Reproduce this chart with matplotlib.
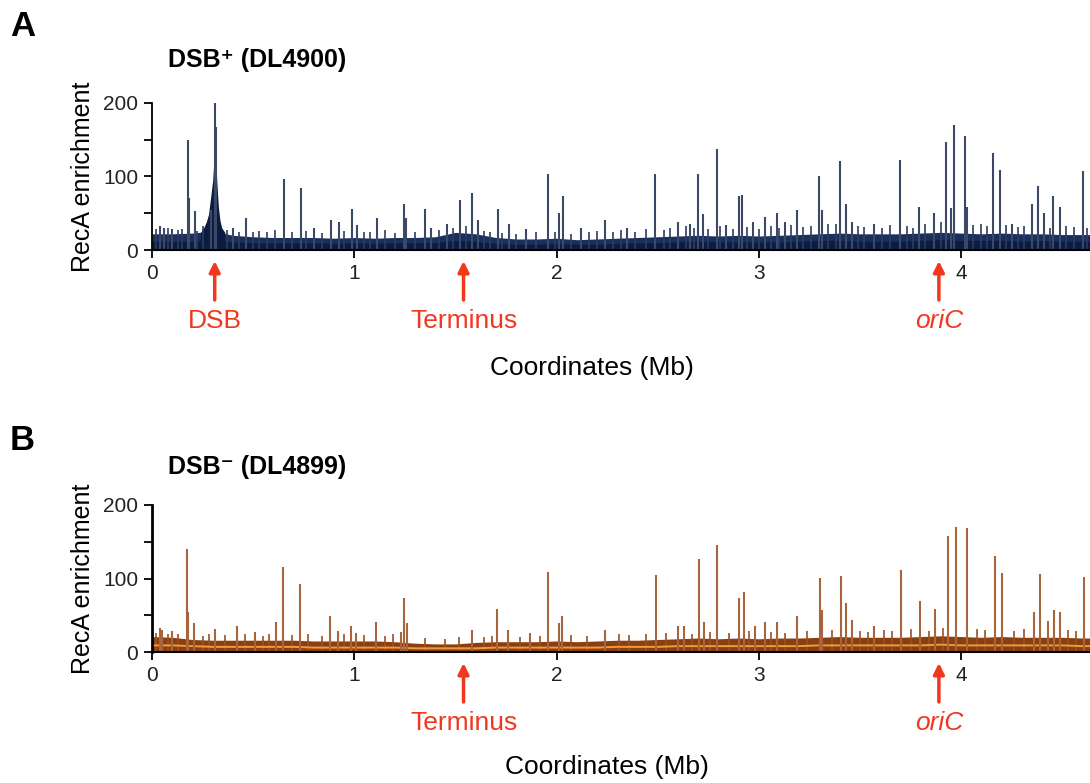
import matplotlib
matplotlib.use('Agg')
import matplotlib.pyplot as plt

plt.rcParams['font.family'] = ['Liberation Sans', 'DejaVu Sans']

# genome positions (Mb) of the background envelope, every 0.1 Mb
env_mb = [0.0, 0.1, 0.2, 0.3, 0.4, 0.5, 0.6, 0.7, 0.8, 0.9,
          1.0, 1.1, 1.2, 1.3, 1.4, 1.5, 1.6, 1.7, 1.8, 1.9,
          2.0, 2.1, 2.2, 2.3, 2.4, 2.5, 2.6, 2.7, 2.8, 2.9,
          3.0, 3.1, 3.2, 3.3, 3.4, 3.5, 3.6, 3.7, 3.8, 3.9,
          4.0, 4.1, 4.2, 4.3, 4.4, 4.5, 4.6, 4.64]

# panel A (DSB+ DL4900)
a_env = [22, 22, 23, 26, 20, 18, 17, 17, 17, 16,
         17, 16, 17, 17, 18, 24, 22, 17, 15, 15,
         16, 14, 15, 16, 17, 18, 19, 20, 19, 20,
         19, 20, 21, 22, 23, 22, 22, 22, 23, 24,
         23, 22, 23, 22, 22, 21, 21, 21]
a_floor = [12, 12, 12, 14, 11, 10, 10, 10, 10, 9,
           10, 9, 10, 10, 10, 13, 12, 9, 8, 8,
           9, 8, 8, 9, 10, 10, 11, 12, 11, 11,
           11, 11, 12, 13, 13, 12, 12, 12, 13, 14,
           13, 13, 13, 12, 13, 12, 12, 12]
a_hump_mb = [0.24, 0.255, 0.268, 0.279, 0.29, 0.30, 0.306, 0.312, 0.32, 0.328,
             0.336, 0.345, 0.36]
a_hump = [24, 30, 38, 48, 72, 95, 122, 150, 95, 59, 40, 30, 24]
a_peak_mb = [0.04, 0.06, 0.10, 0.177, 0.182, 0.213, 0.29, 0.312, 0.315, 0.40, 0.465,
             0.652, 0.739, 0.80, 0.883, 0.924, 0.989, 1.015, 1.11, 1.244, 1.257,
             1.348, 1.38, 1.46, 1.525, 1.583, 1.61, 1.708, 1.765, 1.85, 1.959,
             2.011, 2.031, 2.12, 2.241, 2.35, 2.487, 2.60, 2.66, 2.701, 2.725,
             2.792, 2.84, 2.90, 2.919, 2.97, 3.03, 3.088, 3.13, 3.187, 3.299,
             3.31, 3.403, 3.43, 3.46, 3.57, 3.697, 3.792, 3.867, 3.927, 3.95,
             3.965, 4.021, 4.03, 4.157, 4.193, 4.25, 4.35, 4.38, 4.41, 4.455,
             4.49, 4.60]
a_peak = [32, 30, 28, 150, 71, 53, 55, 200, 168, 30, 43,
          97, 85, 30, 41, 38, 56, 34, 44, 63, 44,
          56, 30, 35, 68, 77, 41, 56, 36, 28, 104,
          50, 73, 30, 41, 30, 104, 38, 36, 104, 49,
          137, 34, 73, 75, 38, 45, 50, 38, 55, 101,
          55, 121, 62, 38, 36, 123, 58, 51, 147, 57,
          170, 155, 58, 132, 109, 35, 63, 87, 50, 73,
          58, 107]
# small background bumps seen along panel A
a_minor_mb = [0.02, 0.08, 0.13, 0.15, 0.22, 0.25, 0.37, 0.43, 0.50, 0.53,
              0.57, 0.61, 0.69, 0.76, 0.84, 0.95, 1.05, 1.08, 1.15, 1.20,
              1.30, 1.42, 1.49, 1.55, 1.64, 1.67, 1.73, 1.80, 1.90, 1.99,
              2.07, 2.16, 2.20, 2.28, 2.32, 2.39, 2.44, 2.53, 2.56, 2.64,
              2.68, 2.75, 2.81, 2.87, 2.94, 3.00, 3.06, 3.10, 3.16, 3.22,
              3.26, 3.34, 3.38, 3.49, 3.52, 3.61, 3.65, 3.73, 3.76, 3.82,
              3.90, 4.06, 4.10, 4.13, 4.22, 4.28, 4.31, 4.44, 4.52, 4.56,
              4.62]
a_minor = [28, 30, 27, 29, 26, 33, 27, 25, 24, 26,
           25, 27, 24, 26, 23, 26, 24, 25, 27, 23,
           25, 27, 30, 32, 26, 24, 23, 22, 24, 25,
           22, 24, 26, 25, 27, 24, 28, 27, 30, 32,
           30, 28, 33, 29, 31, 29, 32, 30, 34, 31,
           33, 35, 36, 33, 31, 30, 34, 32, 30, 35,
           38, 34, 36, 33, 34, 31, 33, 30, 32, 31,
           30]

# panel B (DSB- DL4899)
b_env = [21, 20, 17, 16, 16, 16, 16, 16, 15, 15,
         15, 15, 14, 12, 11, 11, 13, 14, 14, 14,
         15, 14, 15, 16, 16, 17, 18, 19, 18, 19,
         18, 19, 19, 20, 21, 20, 20, 20, 21, 22,
         21, 20, 21, 20, 20, 20, 19, 19]
b_mid = [9, 9, 8, 7, 7, 7, 7, 7, 6, 6,
         6, 6, 6, 5, 5, 5, 5, 6, 6, 6,
         6, 6, 6, 7, 7, 7, 8, 8, 8, 8,
         8, 8, 8, 9, 9, 9, 9, 9, 9, 10,
         9, 9, 9, 9, 9, 9, 8, 8]
b_peak_mb = [0.04, 0.05, 0.10, 0.173, 0.18, 0.21, 0.31, 0.42, 0.51, 0.612, 0.649,
             0.734, 0.881, 0.92, 0.985, 1.01, 1.107, 1.23, 1.247, 1.26, 1.58,
             1.706, 1.76, 1.87, 1.959, 2.01, 2.028, 2.24, 2.493, 2.60, 2.63,
             2.705, 2.73, 2.795, 2.904, 2.926, 2.98, 3.03, 3.088, 3.19, 3.30,
             3.31, 3.407, 3.43, 3.46, 3.57, 3.703, 3.797, 3.87, 3.936, 3.973,
             4.03, 4.165, 4.20, 4.36, 4.39, 4.43, 4.46, 4.49, 4.607]
b_peak = [32, 30, 28, 140, 55, 39, 31, 35, 27, 41, 116,
          93, 49, 29, 36, 26, 41, 27, 73, 40, 30,
          58, 30, 26, 109, 40, 49, 30, 105, 35, 35,
          126, 41, 145, 74, 82, 35, 41, 41, 49, 101,
          57, 103, 67, 43, 36, 111, 70, 59, 158, 170,
          169, 131, 108, 55, 106, 42, 57, 55, 102]
b_minor_mb = [0.02, 0.08, 0.13, 0.25, 0.28, 0.36, 0.46, 0.55, 0.58, 0.69,
              0.77, 0.84, 0.95, 1.05, 1.15, 1.19, 1.35, 1.45, 1.52, 1.64,
              1.68, 1.82, 1.92, 2.07, 2.15, 2.31, 2.36, 2.44, 2.54, 2.67,
              2.76, 2.85, 2.95, 3.06, 3.13, 3.24, 3.36, 3.50, 3.54, 3.62,
              3.66, 3.75, 3.84, 3.91, 4.08, 4.12, 4.26, 4.31, 4.53, 4.57]
b_minor = [26, 24, 25, 22, 24, 23, 25, 22, 24, 23,
           24, 22, 25, 23, 22, 24, 19, 18, 20, 21,
           22, 21, 22, 23, 22, 24, 23, 25, 26, 25,
           27, 26, 28, 27, 26, 28, 30, 29, 27, 30,
           28, 31, 29, 33, 31, 30, 29, 31, 30, 28]

red = '#f2371f'
fig = plt.figure(figsize=(10.9, 7.83), dpi=100)


def style_axes(ax):
    ax.set_xlim(0, 4.637)
    ax.set_ylim(0, 200)
    for s in ('top', 'right'):
        ax.spines[s].set_visible(False)
    ax.spines['left'].set_bounds(0, 200)
    ax.spines['left'].set_linewidth(1.3)
    ax.spines['bottom'].set_linewidth(1.5)
    ax.set_yticks([0, 50, 100, 150, 200])
    ax.set_yticklabels(['0', '', '100', '', '200'])
    ax.set_xticks([0, 1, 2, 3, 4])
    ax.tick_params(axis='both', direction='out', length=6, width=1.3,
                   labelsize=15, labelcolor='#222222', pad=4)
    ax.set_ylabel('RecA enrichment', fontsize=18, labelpad=6)
    ax.set_facecolor('none')


def mark(ax, x, label, italic=False):
    tr = ax.get_xaxis_transform()
    ax.annotate('', xy=(x, -0.075), xytext=(x, -0.34), xycoords=tr,
                textcoords=tr, annotation_clip=False,
                arrowprops=dict(arrowstyle='-|>', color=red, lw=2.5,
                                mutation_scale=16, shrinkA=0, shrinkB=0))
    ax.text(x, -0.48, label, transform=tr, color=red, fontsize=19,
            ha='center', va='center', style='italic' if italic else 'normal')


# ---- panel A
axA = fig.add_axes([152 / 1090, 1 - 250 / 783, 1 - 152 / 1090, 147 / 783])
axA.vlines(a_minor_mb, 0, a_minor, color='#2c3c60', lw=1.2)
axA.fill_between(env_mb, 0, a_env, color='#1b2f5c', lw=0)
axA.fill_between(env_mb, 0, a_floor, color='#0c1c40', lw=0)
axA.fill_between(a_hump_mb, 0, a_hump, color='#0c1c40', lw=0)
axA.vlines(a_peak_mb, 0, a_peak, color='#3b4866', lw=1.5)
style_axes(axA)
mark(axA, 0.31, 'DSB')
mark(axA, 1.54, 'Terminus')
mark(axA, 3.89, 'oriC', italic=True)

# ---- panel B
axB = fig.add_axes([152 / 1090, 1 - 652 / 783, 1 - 152 / 1090, 147 / 783])
axB.vlines(b_minor_mb, 0, b_minor, color='#9a5020', lw=1.2)
axB.fill_between(env_mb, 0, b_env, color='#8a3f10', lw=0)
axB.plot(env_mb, b_mid, color='#f39a3c', lw=1.4)
axB.vlines(b_peak_mb, 0, b_peak, color='#a8643c', lw=1.5)
style_axes(axB)
axB.spines['left'].set_linewidth(2)
mark(axB, 1.54, 'Terminus')
mark(axB, 3.89, 'oriC', italic=True)

# ---- figure text
fig.text(10 / 1090, 1 - 27 / 783, 'A', fontsize=25, fontweight='bold', va='center')
fig.text(10 / 1090, 1 - 440 / 783, 'B', fontsize=25, fontweight='bold', va='center')
fig.text(168 / 1090, 1 - 60 / 783, 'DSB\u207a (DL4900)', fontsize=18,
         fontweight='bold', va='center')
fig.text(168 / 1090, 1 - 467 / 783, 'DSB\u207b (DL4899)', fontsize=18,
         fontweight='bold', va='center')
fig.text(592 / 1090, 1 - 368 / 783, 'Coordinates (Mb)', fontsize=19,
         ha='center', va='center')
fig.text(607 / 1090, 1 - 767 / 783, 'Coordinates (Mb)', fontsize=19,
         ha='center', va='center')

fig.savefig('out.png', dpi=100)
